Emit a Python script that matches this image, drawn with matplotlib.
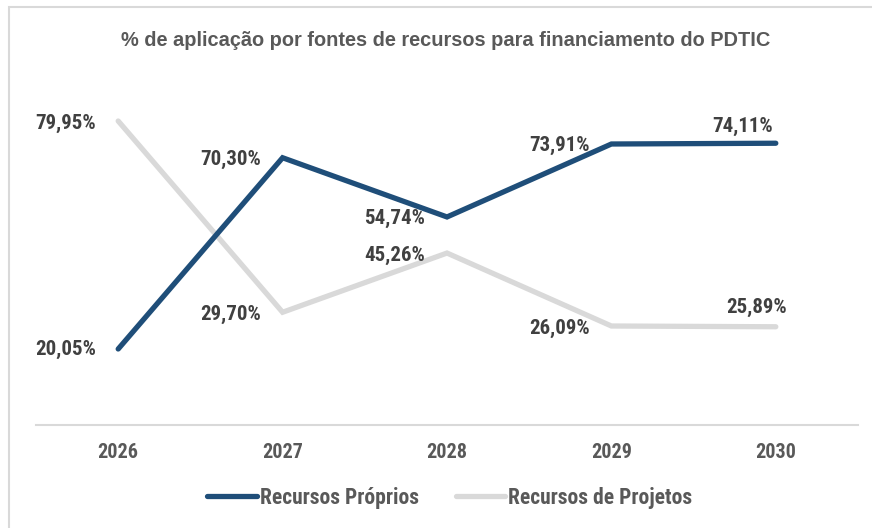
import matplotlib
matplotlib.use("Agg")
import matplotlib.pyplot as plt
from matplotlib.patches import Rectangle

years = ["2026", "2027", "2028", "2029", "2030"]
recursos_proprios = [20.05, 70.30, 54.74, 73.91, 74.11]
recursos_projetos = [79.95, 29.70, 45.26, 26.09, 25.89]
series_names = ["Recursos Próprios", "Recursos de Projetos"]
title = "% de aplicação por fontes de recursos para financiamento do PDTIC"

plt.rcParams['font.family'] = ['Roboto Condensed', 'Liberation Sans', 'DejaVu Sans']

W, H = 872, 528
fig = plt.figure(figsize=(W / 100, H / 100), dpi=100)
fig.patch.set_facecolor("white")

# outer frame
fig.patches.append(Rectangle((9 / W, -0.1), 1.2, 1 - 7 / H + 0.1, transform=fig.transFigure,
                             fill=False, edgecolor="#D9D9D9", linewidth=1.5))

ax = fig.add_axes([36 / W, 1 - 425.3 / H, (858 - 36) / W, (425.3 - 44.7) / H])
ax.set_facecolor("none")
x = list(range(len(years)))
blue = "#1F4E79"
gray = "#D9D9D9"
ax.plot(x, recursos_proprios, color=blue, lw=3.8, solid_capstyle="round",
        solid_joinstyle="miter", label=series_names[0], zorder=3)
ax.plot(x, recursos_projetos, color=gray, lw=3.8, solid_capstyle="round",
        solid_joinstyle="miter", label=series_names[1], zorder=2)

ax.set_xlim(-0.5, len(years) - 0.5)
ax.set_ylim(0, 100)
for s in ["left", "right", "top"]:
    ax.spines[s].set_visible(False)
ax.spines["bottom"].set_color("#D9D9D9")
ax.spines["bottom"].set_linewidth(1.5)
ax.set_yticks([])
ax.set_xticks(x)
ax.set_xticklabels(years, fontsize=14.5, fontweight="bold", color="#595959")
ax.tick_params(axis="x", length=0, pad=13)

lab_color = "#404040"
# offsets (pixels) for labels: (dx, dy, ha)
off_rp = [(-22, 0, "right"), (-22, -2, "right"), (-22, -1, "right"), (-22, -1, "right"), (-3, 17, "right")]
off_pj = [(-22, -2, "right"), (-22, -2, "right"), (-22, -2, "right"), (-22, -2, "right"), (11, 19, "right")]
for xi, v, (dx, dy, ha) in zip(x, recursos_proprios, off_rp):
    ax.annotate(f"{v:.2f}%".replace(".", ","), (xi, v), xytext=(dx, dy), textcoords="offset pixels",
                ha=ha, va="center", fontsize=15, fontweight="bold", color=lab_color)
for xi, v, (dx, dy, ha) in zip(x, recursos_projetos, off_pj):
    ax.annotate(f"{v:.2f}%".replace(".", ","), (xi, v), xytext=(dx, dy), textcoords="offset pixels",
                ha=ha, va="center", fontsize=15, fontweight="bold", color=lab_color)

fig.text(446 / W, 1 - 41 / H, title, ha="center", va="center", fontsize=14.4,
         fontweight="bold", color="#595959", family=["Liberation Sans", "DejaVu Sans"])

leg = fig.legend(loc="center", bbox_to_anchor=(450 / W, 1 - 498 / H), ncol=2, frameon=False,
                 handlelength=2.3, handletextpad=0.15, columnspacing=1.7,
                 prop={"size": 15.5, "weight": "bold"})
for t in leg.get_texts():
    t.set_color("#595959")
for l in leg.get_lines():
    l.set_linewidth(3.8)
    l.set_solid_capstyle("round")

fig.savefig("out.png", dpi=100, facecolor="white")
